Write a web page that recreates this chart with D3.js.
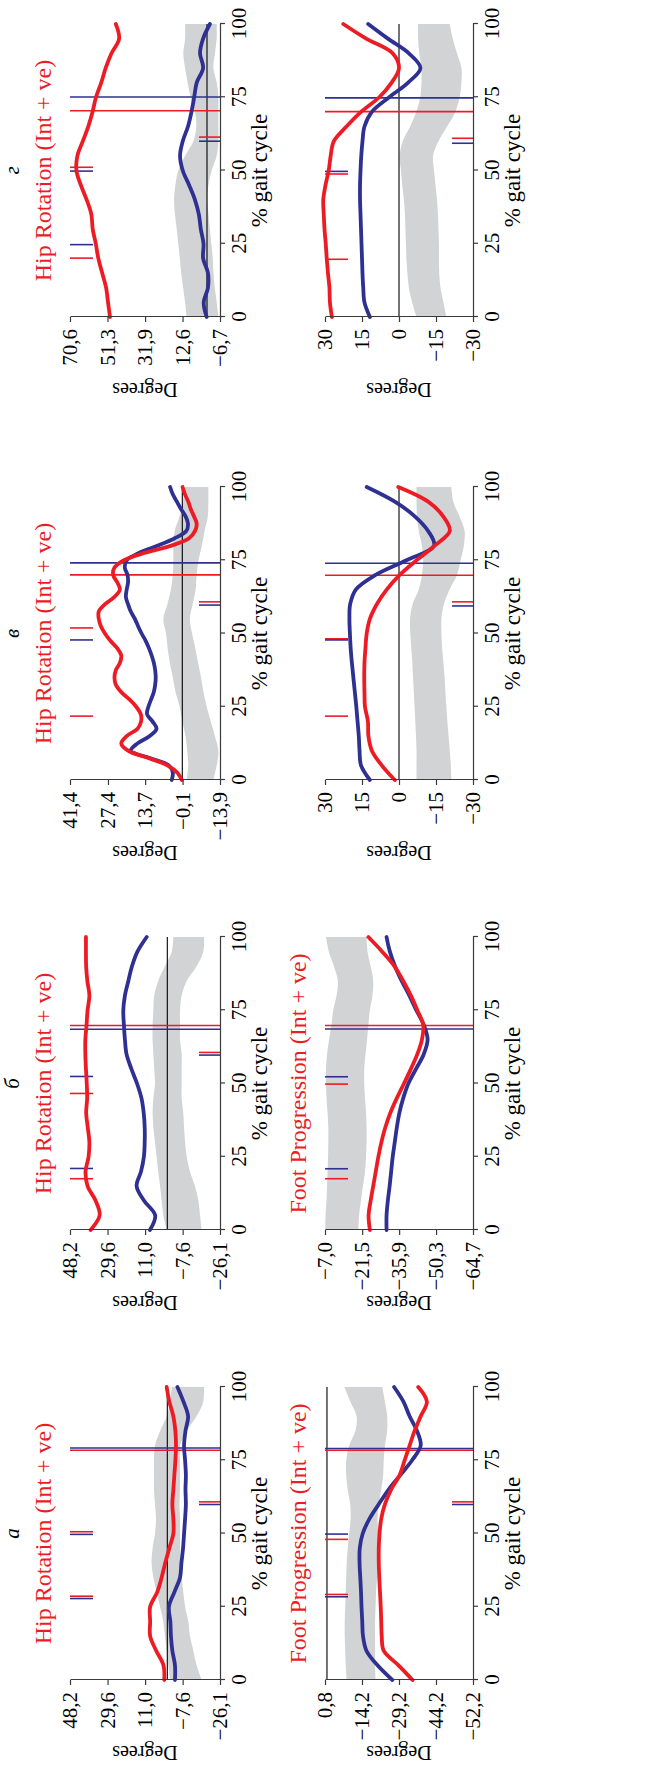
<!DOCTYPE html>
<html>
<head>
<meta charset="utf-8">
<script src="https://cdn.jsdelivr.net/npm/d3@7"></script>
<style>
body { margin: 0; background: #fff; }
svg text { font-family: "Liberation Serif", "Times New Roman", serif; }
</style>
</head>
<body>
<svg id="fig" width="646" height="1778"></svg>
<script>
// % gait cycle sample points
var gaitPct = [0,5,10,15,20,25,30,35,40,45,50,55,60,65,70,75,80,85,90,95,100];
var gaitPctFine = [0,2.5,5,7.5,10,12.5,15,17.5,20,22.5,25,27.5,30,32.5,35,37.5,40,42.5,45,47.5,50,52.5,55,57.5,60,62.5,65,67.5,70,72.5,75,77.5,80,82.5,85,87.5,90,92.5,95,97.5,100];
var gaitTicks = [0,25,50,75,100];

var panelLetters = ["а","б","в","г"];
var hipTitle = "Hip Rotation (Int + ve)";
var footTitle = "Foot Progression (Int + ve)";

// column а
var hipA_ticks = [48.2,29.6,11.0,-7.6,-26.1];
var hipA_labels = ["48,2","29,6","11,0","−7,6","−26,1"];
var hipA_red = [1.5,1.9,5.5,8.5,8.5,8.5,5.0,2.8,1.0,-1.0,-3.0,-3.0,-2.5,-3.0,-3.5,-4.0,-4.3,-4.0,-3.0,-1.0,0.3];
var hipA_blue = [-3.8,-3.8,-2.5,-1.8,-1.5,-0.8,-3.5,-6.3,-7.0,-7.8,-8.3,-8.8,-9.2,-9.0,-9.2,-8.8,-8.3,-9.0,-10.3,-8.0,-5.0];
var hipA_hi = [-1.3,-0.5,0.3,1.2,2.0,3.6,5.3,6.9,7.8,7.3,6.1,5.6,6.1,6.6,6.6,6.6,6.1,3.6,0.3,-1.3,-2.2];
var hipA_lo = [-17.0,-14.5,-12.9,-11.2,-10.4,-8.8,-7.9,-7.1,-6.3,-6.3,-6.3,-6.3,-6.0,-6.3,-6.3,-6.3,-6.3,-9.6,-14.5,-17.8,-18.2];
var hipA_toe = [78.4,79.2];
var hipA_oppRed = [28.6,50.6];
var hipA_oppBlue = [27.8,49.7];
var hipA_norm = [60.8,59.9];

var footA_ticks = [0.8,-14.2,-29.2,-44.2,-59.2];
var footA_labels = ["0,8","−14,2","−29,2","−44,2","−52,2"];
var footA_red = [-34.7,-29.0,-23.0,-22.2,-22.0,-21.8,-21.5,-21.2,-21.0,-21.0,-21.3,-22.0,-23.5,-26.0,-29.5,-31.5,-33.5,-35.5,-38.0,-40.5,-37.0];
var footA_blue = [-26.5,-20.5,-16.0,-14.6,-14.3,-14.0,-13.8,-13.5,-13.2,-13.3,-14.5,-17.2,-21.0,-25.0,-29.8,-34.5,-38.0,-36.5,-33.5,-31.0,-27.2];
var footA_hi = [-8.0,-7.6,-7.4,-7.2,-7.2,-7.4,-7.6,-7.8,-8.0,-8.4,-9.0,-9.6,-9.4,-8.4,-7.8,-7.8,-9.0,-11.5,-12.0,-9.5,-7.0];
var footA_lo = [-19.7,-19.5,-19.5,-19.5,-19.5,-19.7,-19.9,-20.3,-20.5,-20.8,-20.8,-20.5,-21.0,-22.0,-22.8,-23.0,-23.5,-24.4,-24.4,-23.5,-22.4];
var footA_toe = [78.4,79.0];
var footA_oppRed = [29.2,48.0];
var footA_oppBlue = [28.4,49.8];
var footA_norm = [60.8,59.9];

// column б
var hipB_ticks = [48.2,29.6,11.0,-7.6,-26.1];
var hipB_labels = ["48,2","29,6","11,0","−7,6","−26,1"];
var hipB_red = [38.0,33.5,35.5,39.5,40.5,39.0,38.6,39.4,40.2,39.7,39.9,40.3,40.6,40.6,40.0,39.5,38.6,39.6,40.2,40.3,40.3];
var hipB_blue = [8.6,6.0,11.5,15.2,13.0,11.6,11.2,11.2,11.7,12.8,15.0,17.8,20.2,21.0,21.5,21.8,21.0,19.3,17.5,14.8,10.2];
var hipB_hi = [0.3,2.0,2.8,3.6,4.5,5.3,6.1,6.9,7.3,6.9,6.1,6.5,6.9,7.3,7.3,6.9,6.5,4.5,1.2,-2.2,-3.0];
var hipB_lo = [-17.0,-16.2,-15.4,-13.7,-11.2,-9.6,-8.8,-8.3,-7.9,-7.1,-7.1,-7.1,-7.1,-6.3,-6.3,-6.3,-7.1,-9.6,-14.5,-17.8,-18.2];
var hipB_toe = [69.8,68.5];
var hipB_oppRed = [17.5,46.6];
var hipB_oppBlue = [21.0,52.4];
var hipB_norm = [60.6,59.7];

var footB_ticks = [-7.0,-21.5,-35.9,-50.3,-64.7];
var footB_labels = ["−7,0","−21,5","−35,9","−50,3","−64,7"];
var footB_red = [-24.5,-24.0,-24.8,-25.8,-26.8,-27.8,-29.0,-30.5,-32.5,-35.0,-37.8,-40.5,-43.0,-44.8,-45.3,-43.0,-40.5,-37.5,-34.1,-29.3,-23.9];
var footB_blue = [-31.0,-31.0,-31.5,-32.2,-32.8,-33.4,-34.2,-35.0,-36.0,-37.5,-39.5,-42.5,-45.5,-47.0,-45.5,-42.6,-39.9,-36.9,-34.3,-32.3,-31.0];
var footB_hi = [-7.1,-7.2,-7.6,-7.8,-8.0,-8.2,-8.3,-8.3,-8.0,-7.6,-7.4,-7.4,-7.8,-8.6,-9.5,-10.2,-11.5,-12.0,-10.5,-8.5,-7.4];
var footB_lo = [-20.0,-20.3,-21.0,-21.8,-22.6,-23.0,-23.2,-23.2,-23.0,-22.6,-22.3,-22.3,-22.8,-23.4,-23.9,-24.5,-25.5,-25.8,-24.8,-23.6,-23.2];
var footB_toe = [69.8,68.6];
var footB_oppRed = [17.5,49.8];
var footB_oppBlue = [20.9,52.3];
var footB_norm = [];

// column в
var hipC_ticks = [41.4,27.4,13.7,-0.1,-13.9];
var hipC_labels = ["41,4","27,4","13,7","−0,1","−13,9"];
var hipC_red = [0.2,1.8,5.5,12.5,20.0,22.5,20.5,16.5,15.2,15.3,17.0,19.5,22.5,24.5,25.0,24.5,23.0,22.5,24.0,26.5,28.5,30.0,30.8,30.8,28.5,25.0,23.0,24.0,25.5,25.0,21.5,14.0,4.0,-2.5,-4.7,-5.3,-4.3,-3.1,-2.2,-1.0,-0.1];
var hipC_blue = [3.9,3.5,5.0,12.0,19.0,16.5,12.0,9.5,11.0,13.0,12.5,11.5,10.5,10.0,9.8,10.0,10.5,11.3,12.3,13.5,15.0,16.3,17.5,19.0,20.0,20.8,20.5,20.0,20.2,21.2,20.5,16.0,9.0,2.8,-1.5,-2.1,-1.2,0.5,2.0,3.5,4.5];
var hipC_hi = [-1.6,-2.2,-1.8,-1.2,0.0,1.0,2.5,3.5,4.6,5.4,6.0,7.0,5.5,4.2,3.5,3.3,3.3,2.8,1.0,-0.2,-1.0];
var hipC_lo = [-11.4,-12.7,-13.3,-12.0,-10.5,-9.0,-7.8,-6.9,-5.8,-4.8,-3.6,-2.8,-3.8,-4.9,-5.3,-6.0,-7.2,-8.2,-9.4,-9.6,-9.6];
var hipC_toe = [70.0,74.1];
var hipC_oppRed = [21.8,51.9];
var hipC_oppBlue = [47.8];
var hipC_norm = [60.8,59.7];

var footC_ticks = [30,15,0,-15,-30];
var footC_labels = ["30","15","0","−15","−30"];
var footC_red = [1.7,7.0,11.0,12.4,12.6,13.8,14.0,14.1,14.0,13.6,13.1,11.8,9.0,5.0,-0.3,-7.1,-14.5,-20.6,-17.9,-11.8,0.3];
var footC_blue = [11.8,15.4,16.0,16.3,16.8,17.3,17.9,18.5,19.1,19.6,19.9,20.1,19.8,17.5,9.5,-3.0,-14.2,-11.8,-6.4,1.7,13.1];
var footC_hi = [-7.1,-7.1,-7.1,-6.9,-6.6,-6.3,-6.0,-5.7,-5.4,-5.0,-4.6,-4.5,-5.5,-8.0,-9.3,-9.8,-9.3,-8.0,-7.3,-7.1,-7.1];
var footC_lo = [-21.2,-21.0,-20.6,-20.1,-19.6,-19.2,-18.8,-18.5,-18.0,-17.5,-17.2,-17.2,-18.2,-20.5,-23.5,-25.0,-26.3,-26.6,-24.5,-22.0,-21.2];
var footC_toe = [69.9,74.0];
var footC_oppRed = [21.8,48.2];
var footC_oppBlue = [47.8];
var footC_norm = [60.8,59.4];

// column г
var hipD_ticks = [70.6,51.3,31.9,12.6,-6.7];
var hipD_labels = ["70,6","51,3","31,9","12,6","−6,7"];
var hipD_red = [50.0,51.0,52.0,54.0,56.0,57.3,58.9,59.6,62.0,65.0,67.3,66.8,64.0,61.2,59.0,57.2,54.5,52.2,49.2,45.3,47.0];
var hipD_blue = [0.2,1.7,-0.5,-0.5,2.0,1.8,3.2,4.2,6.2,9.2,12.5,13.9,12.5,9.8,8.0,6.6,5.3,2.0,3.6,2.0,-1.5];
var hipD_hi = [10.5,11.3,12.3,13.3,14.0,14.8,15.6,16.5,17.0,16.3,14.8,11.3,7.0,5.5,6.2,8.5,10.0,11.3,12.2,11.3,11.3];
var hipD_lo = [-5.85,-5.0,-4.0,-3.3,-3.0,-2.2,-1.5,-0.8,-0.2,-0.7,-2.4,-5.0,-5.85,-5.85,-5.85,-5.85,-5.0,-3.3,-4.1,-5.0,-5.0];
var hipD_toe = [70.4,75.1];
var hipD_oppRed = [20.1,51.1];
var hipD_oppBlue = [24.7,49.8];
var hipD_norm = [61.4,60.0];

var footD_ticks = [30,15,0,-15,-30];
var footD_labels = ["30","15","0","−15","−30"];
var footD_red = [27.2,28.0,28.2,28.8,29.3,29.7,30.2,30.5,30.7,29.8,28.5,27.7,26.4,21.3,15.4,8.0,3.0,0.0,2.6,13.3,22.6];
var footD_blue = [11.8,14.0,14.5,14.8,15.0,15.2,15.4,15.6,15.8,15.8,15.6,15.3,14.8,14.0,11.0,4.0,-3.7,-8.7,-4.0,4.5,12.5];
var footD_hi = [-7.1,-5.3,-4.0,-3.4,-3.0,-2.8,-2.6,-2.4,-2.0,-1.3,-0.8,-0.3,-1.5,-4.5,-7.0,-8.6,-9.1,-9.1,-8.2,-7.75,-7.75];
var footD_lo = [-19.2,-18.0,-16.8,-16.3,-16.2,-16.2,-16.0,-15.8,-15.4,-14.8,-14.2,-13.8,-16.0,-19.5,-22.8,-24.6,-25.3,-25.3,-23.5,-21.8,-20.6];
var footD_toe = [70.1,74.8];
var footD_oppRed = [19.7,48.8];
var footD_oppBlue = [49.7];
var footD_norm = [61.0,59.3];

var panels = [
	{col: 0, row: 0, title: hipTitle, ticks: hipA_ticks, labels: hipA_labels, lineX: gaitPct, red: hipA_red, blue: hipA_blue, hi: hipA_hi, lo: hipA_lo, toe: hipA_toe, oppRed: hipA_oppRed, oppBlue: hipA_oppBlue, norm: hipA_norm},
	{col: 0, row: 1, title: footTitle, ticks: footA_ticks, labels: footA_labels, lineX: gaitPct, red: footA_red, blue: footA_blue, hi: footA_hi, lo: footA_lo, toe: footA_toe, oppRed: footA_oppRed, oppBlue: footA_oppBlue, norm: footA_norm},
	{col: 1, row: 0, title: hipTitle, ticks: hipB_ticks, labels: hipB_labels, lineX: gaitPct, red: hipB_red, blue: hipB_blue, hi: hipB_hi, lo: hipB_lo, toe: hipB_toe, oppRed: hipB_oppRed, oppBlue: hipB_oppBlue, norm: hipB_norm},
	{col: 1, row: 1, title: footTitle, ticks: footB_ticks, labels: footB_labels, lineX: gaitPct, red: footB_red, blue: footB_blue, hi: footB_hi, lo: footB_lo, toe: footB_toe, oppRed: footB_oppRed, oppBlue: footB_oppBlue, norm: footB_norm},
	{col: 2, row: 0, title: hipTitle, ticks: hipC_ticks, labels: hipC_labels, lineX: gaitPctFine, red: hipC_red, blue: hipC_blue, hi: hipC_hi, lo: hipC_lo, toe: hipC_toe, oppRed: hipC_oppRed, oppBlue: hipC_oppBlue, norm: hipC_norm},
	{col: 2, row: 1, title: null, ticks: footC_ticks, labels: footC_labels, lineX: gaitPct, red: footC_red, blue: footC_blue, hi: footC_hi, lo: footC_lo, toe: footC_toe, oppRed: footC_oppRed, oppBlue: footC_oppBlue, norm: footC_norm},
	{col: 3, row: 0, title: hipTitle, ticks: hipD_ticks, labels: hipD_labels, lineX: gaitPct, red: hipD_red, blue: hipD_blue, hi: hipD_hi, lo: hipD_lo, toe: hipD_toe, oppRed: hipD_oppRed, oppBlue: hipD_oppBlue, norm: hipD_norm},
	{col: 3, row: 1, title: null, ticks: footD_ticks, labels: footD_labels, lineX: gaitPct, red: footD_red, blue: footD_blue, hi: footD_hi, lo: footD_lo, toe: footD_toe, oppRed: footD_oppRed, oppBlue: footD_oppBlue, norm: footD_norm}
];

// the figure is laid out landscape and then turned a quarter turn to the left
var colX = [98, 548, 998, 1461];
var plotW = 293;
var rowTop = [70, 325];
var rowBot = [220, 473];
var redC = "#ed1c24", blueC = "#2e3192", bandC = "#d1d3d4";

var fig = d3.select("#fig").append("g")
	.attr("transform", "translate(0,1778) rotate(-90)");

function drawPanel(p) {
	var top = rowTop[p.row], bot = rowBot[p.row];
	var x = d3.scaleLinear().domain([0, 100]).range([colX[p.col], colX[p.col] + plotW]);
	var y = d3.scaleLinear()
		.domain([p.ticks[p.ticks.length - 1], p.ticks[0]])
		.range([bot, top]);
	var g = fig.append("g");

	// normal range band
	var area = d3.area()
		.x((d, i) => x(gaitPct[i]))
		.y0((d, i) => y(p.lo[i]))
		.y1((d, i) => y(p.hi[i]))
		.curve(d3.curveCatmullRom);
	g.append("path").datum(p.hi)
		.attr("d", area)
		.attr("fill", bandC);

	var dom = y.domain();
	if (dom[0] <= 0 && dom[1] >= 0) {
		g.append("line")
			.attr("x1", x(0)).attr("x2", x(100))
			.attr("y1", y(0)).attr("y2", y(0))
			.attr("stroke", "#000").attr("stroke-width", 1.1);
	}

	// event markers
	function vline(v, y1, y2, c) {
		g.append("line")
			.attr("x1", x(v)).attr("x2", x(v))
			.attr("y1", y1).attr("y2", y2)
			.attr("stroke", c).attr("stroke-width", 1.6);
	}
	vline(p.toe[0], top, bot, redC);
	vline(p.toe[1], top, bot, blueC);
	p.oppRed.forEach(v => vline(v, top, top + 23, redC));
	p.oppBlue.forEach(v => vline(v, top, top + 23, blueC));
	if (p.norm.length) {
		vline(p.norm[0], bot - 21, bot, redC);
		vline(p.norm[1], bot - 21, bot, blueC);
	}

	var line = d3.line()
		.x((d, i) => x(p.lineX[i]))
		.y(d => y(d))
		.curve(d3.curveCatmullRom);
	g.append("path").datum(p.blue)
		.attr("d", line).attr("fill", "none")
		.attr("stroke", blueC).attr("stroke-width", 3.8)
		.attr("stroke-linejoin", "round").attr("stroke-linecap", "round");
	g.append("path").datum(p.red)
		.attr("d", line).attr("fill", "none")
		.attr("stroke", redC).attr("stroke-width", 3.8)
		.attr("stroke-linejoin", "round").attr("stroke-linecap", "round");

	// axes
	var ya = g.append("g")
		.attr("transform", `translate(${colX[p.col]},0)`)
		.call(d3.axisLeft(y).tickValues(p.ticks)
			.tickFormat((d, i) => p.labels[i])
			.tickSize(5).tickSizeOuter(0).tickPadding(7));
	var xa = g.append("g")
		.attr("transform", `translate(0,${bot})`)
		.call(d3.axisBottom(x).tickValues(gaitTicks)
			.tickSize(5).tickSizeOuter(0).tickPadding(6));
	[ya, xa].forEach(function (a) {
		a.attr("font-family", null).attr("font-size", 21).attr("color", "#3a3a3a");
		a.selectAll("path, line").attr("stroke-width", 1.2);
		a.selectAll("text").attr("fill", "#000");
	});

	var cx = colX[p.col] + plotW / 2;
	g.append("text")
		.attr("x", cx).attr("y", bot + 47)
		.attr("text-anchor", "middle").attr("font-size", 23)
		.text("% gait cycle");
	g.append("text")
		.attr("transform", `translate(${colX[p.col] - 66},${(top + bot) / 2}) rotate(-90)`)
		.attr("text-anchor", "middle").attr("font-size", 20)
		.text("Degrees");
	if (p.title) {
		g.append("text")
			.attr("x", cx).attr("y", top - 19)
			.attr("text-anchor", "middle").attr("font-size", 24)
			.attr("fill", redC)
			.text(p.title);
	}
	if (p.row == 0) {
		g.append("text")
			.attr("x", cx).attr("y", 19)
			.attr("text-anchor", "middle").attr("font-size", 21)
			.attr("font-style", "italic")
			.text(panelLetters[p.col]);
	}
}

panels.forEach(drawPanel);
</script>
</body>
</html>
